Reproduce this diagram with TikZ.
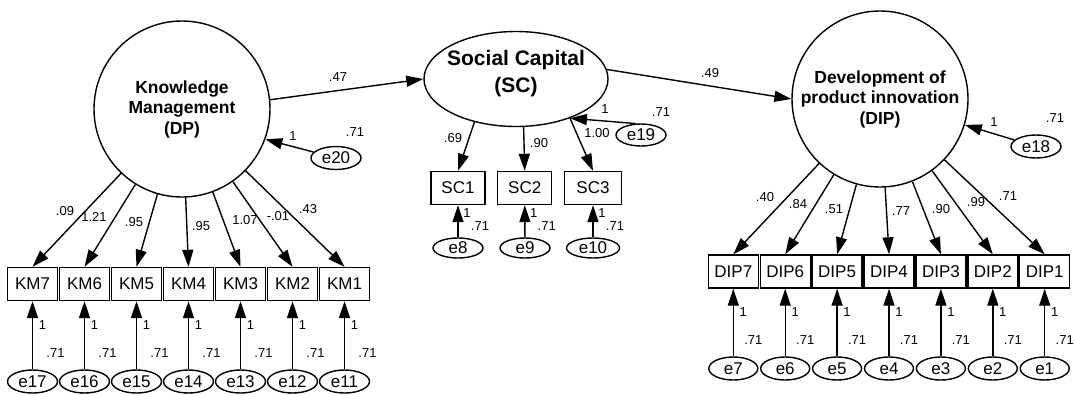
\documentclass[tikz,border=0pt]{standalone}
\usepackage{fontspec}
\setmainfont{Liberation Sans}
\usetikzlibrary{arrows.meta,shapes.geometric,calc}
\begin{document}
\begin{tikzpicture}[x=1pt,y=-1pt,
  lat/.style={draw,circle,line width=1.4pt,inner sep=0pt,minimum size=176pt,align=center,font=\fontsize{17.5}{20.5}\selectfont\bfseries},
  latell/.style={draw,ellipse,line width=1.4pt,inner sep=0pt,minimum width=184pt,minimum height=95pt},
  lattext/.style={inner sep=0pt,align=center,font=\fontsize{21}{27}\selectfont\bfseries},
  ind/.style={draw,rectangle,line width=1.4pt,minimum width=50pt,minimum height=33pt,inner sep=0pt,font=\fontsize{17}{18}\selectfont},
  err/.style={draw,ellipse,line width=1.4pt,minimum width=50pt,minimum height=23pt,inner sep=0pt,font=\fontsize{17}{18}\selectfont},
  lbl/.style={inner sep=0pt,font=\fontsize{13}{14}\selectfont},
  arr/.style={line width=1.4pt,-{Triangle[length=17pt,width=11pt]}},
]
\useasboundingbox (0,0) rectangle (1075,394);

% latent variables
\node[lat] (KM) at (182,109) {Knowledge\\Management\\(DP)};
\node[latell] (SC) at (516,79) {};
\node[lattext] (SCtext) at (516,74) {Social Capital\\(SC)};
\node[lat] (DIP) at (880,99) {Development of\\product innovation\\(DIP)};

% structural paths
\draw[arr] (KM.6) -- (SC.west);
\draw[arr] (SC.6) -- (DIP.west);
\node[lbl] (l47) at (338,77) {.47};
\node[lbl] (l49) at (710,73) {.49};

% disturbances
\node[err] (e20) at (336,158) {e20};
\node[err] (e18) at (1036,146.5) {e18};
\node[err,minimum height=22pt] (e19) at (641,135) {e19};
\draw[arr] (e20) -- (KM.-20);
\draw[arr] (e18) -- (DIP.-17);
\draw[arr] (e19.115) -- (SC.-36);
\node[lbl] (le20a) at (293,136) {1};
\node[lbl] (le20b) at (355,132) {.71};
\node[lbl] (le18a) at (994,122) {1};
\node[lbl] (le18b) at (1055,118) {.71};
\node[lbl] (le19a) at (605,109) {1};
\node[lbl] (le19b) at (661,112) {.71};

% Social capital indicators
\node[ind,minimum width=54pt] (SC1) at (458,188) {SC1};
\node[ind,minimum width=54pt] (SC2) at (524.7,188) {SC2};
\node[ind,minimum width=57pt] (SC3) at (593,188) {SC3};
\node[err,minimum height=20pt] (e8) at (458,248) {e8};
\node[err,minimum height=20pt] (e9) at (525,248) {e9};
\node[err,minimum height=20pt,minimum width=53pt] (e10) at (593,248) {e10};
\draw[arr] (SC.226) -- (SC1.north);
\draw[arr] (SC.279) -- (SC2.north);
\draw[arr] (SC.324) -- (SC3.north);
\node[lbl] (lsc1) at (453,138) {.69};
\node[lbl] (lsc2) at (539,143) {.90};
\node[lbl] (lsc3) at (597,133) {1.00};
\foreach \e/\s in {e8/SC1,e9/SC2,e10/SC3}{
  \draw[arr] (\e) -- (\s);
  \node[lbl] (\e a) at ($(\s.south)+(9,8)$) {1};
  \node[lbl] (\e b) at ($(\s.south)+(22,21)$) {.71};
}

% Knowledge management indicators
\foreach \n/\x/\l/\lx/\ly in {7/32.5/.09/65/211,6/84.5/1.21/94/217,5/136.5/.95/134/222,4/188.5/.95/201/226,3/240.5/1.07/245/220,2/292.5/-.01/278/216,1/344.5/.43/308/209}{
  \node[ind] (KM\n) at (\x,284) {KM\n};
  \node[err] (e1\n) at (\x,381.5) {e1\n};
  \draw[arr] (KM) -- (KM\n.north);
  \draw[arr] (e1\n) -- (KM\n);
  \node[lbl] (lkm\n) at (\lx,\ly) {\l};
  \node[lbl] (le1\n a) at (\x+10,325) {1};
  \node[lbl] (le1\n b) at (\x+23,353) {.71};
}

% Development of product innovation indicators
\foreach \n/\x/\l/\lx/\ly in {7/733.3/.40/765/197,6/785.2/.84/798/204,5/837.1/.51/834/209,4/889/.77/901/211,3/940.9/.90/941/209,2/992.8/.99/976/202,1/1044.7/.71/1008/196}{
  \node[ind] (DIP\n) at (\x,271.5) {DIP\n};
  \node[err,minimum width=49pt] (e\n) at (\x,368.5) {e\n};
  \draw[arr] (DIP) -- (DIP\n.north);
  \draw[arr] (e\n) -- (DIP\n);
  \node[lbl] (ld\n) at (\lx,\ly) {\l};
  \node[lbl] (le\n a) at (\x+10,312) {1};
  \node[lbl] (le\n b) at (\x+20,340) {.71};
}
\end{tikzpicture}
\end{document}
